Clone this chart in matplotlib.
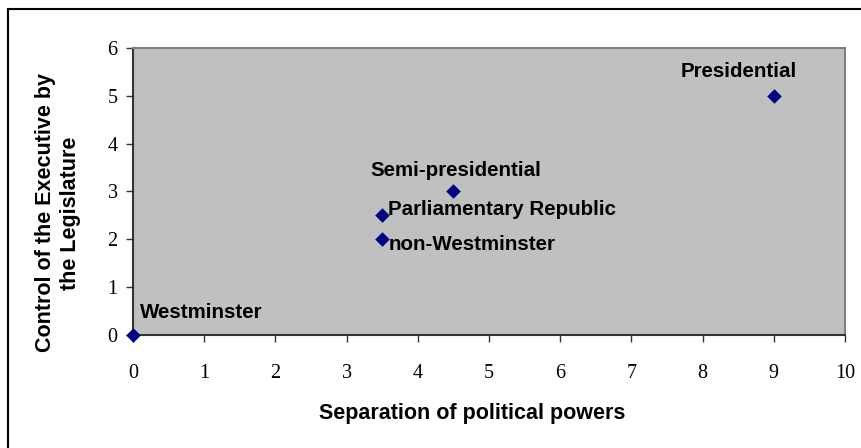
import matplotlib
matplotlib.use("Agg")
import matplotlib.pyplot as plt
from matplotlib.patches import Rectangle

# data
labels = ["Westminster", "non-Westminster", "Parliamentary Republic",
          "Semi-presidential", "Presidential"]
separation = [0, 3.5, 3.5, 4.5, 9]
control = [0, 2, 2.5, 3, 5]
# label offsets from each point, in pixels (left edge, baseline)
label_offsets = [(7, 17), (6, -11), (6, 0), (-83, 16), (-93, 19)]

x_ticks = list(range(0, 11))
y_ticks = list(range(0, 7))

SANS = "Liberation Sans"
SERIF = "Liberation Serif"

fig = plt.figure(figsize=(8.62, 4.48), dpi=100)
ax = fig.add_axes([133 / 862, 1 - 335 / 448, (845 - 133) / 862, (335 - 48) / 448])
ax.set_facecolor("#C0C0C0")

ax.scatter(separation, control, marker="D", s=55, color="#000080",
           zorder=5, clip_on=False, linewidths=0)

for x, y, lab, (dx, dy) in zip(separation, control, labels, label_offsets):
    ax.annotate(lab, (x, y), xytext=(dx, dy), textcoords="offset pixels",
                ha="left", va="baseline", fontsize=14.8, fontweight="bold",
                family=SANS, color="black")

ax.set_xlim(0, 10)
ax.set_ylim(0, 6)
ax.set_xticks(x_ticks)
ax.set_yticks(y_ticks)
for lab in ax.get_xticklabels() + ax.get_yticklabels():
    lab.set_family(SERIF)
    lab.set_fontsize(14.5)
ax.tick_params(direction="out", length=5, width=1, color="#333333", pad=6)
ax.tick_params(axis="x", pad=16)

for side in ["top", "right"]:
    ax.spines[side].set_color("#808080")
    ax.spines[side].set_linewidth(1.5)
for side in ["left", "bottom"]:
    ax.spines[side].set_color("#333333")
    ax.spines[side].set_linewidth(1.5)

fig.text(472 / 862, 1 - 419 / 448, "Separation of political powers",
         ha="center", va="baseline", fontsize=15.5, fontweight="bold", family=SANS)
fig.text(58 / 862, 1 - 213 / 448, "Control of the Executive by\nthe Legislature",
         ha="center", va="center", rotation=90, fontsize=15.5, fontweight="bold",
         family=SANS, linespacing=1.25, multialignment="center")

# outer chart border (only top and left visible in the original)
fig.add_artist(Rectangle((8 / 862, -0.05), 1.1, 1 - 9 / 448 + 0.05,
                         transform=fig.transFigure, fill=False,
                         edgecolor="black", linewidth=1.5))

fig.savefig("out.png", dpi=100)
